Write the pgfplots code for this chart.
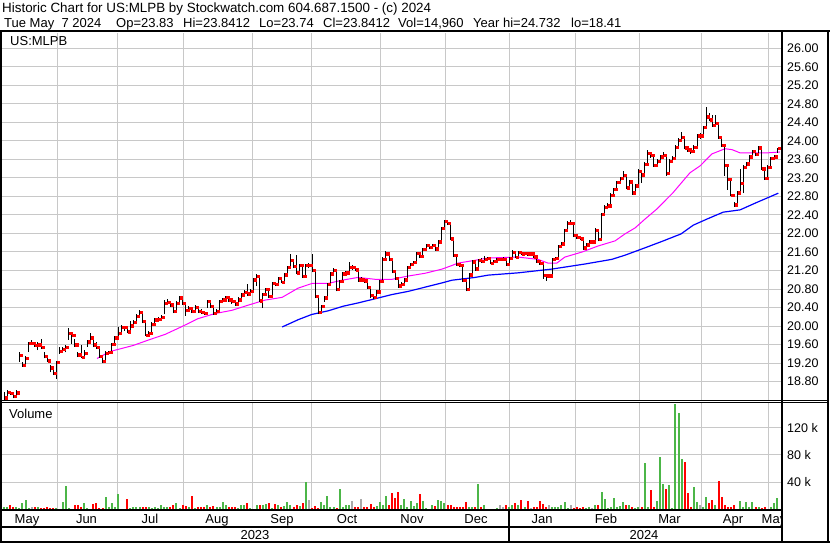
\documentclass[border=0pt]{standalone}
\usepackage{fontspec}
\setmainfont{Liberation Sans}
\usepackage{pgfplots}
\usepackage{pgfplotstable}
\pgfplotsset{compat=1.18}

\definecolor{gridc}{RGB}{200,200,200}
\definecolor{cmag}{RGB}{255,0,255}
\definecolor{cblue}{RGB}{0,0,255}
\definecolor{cred}{RGB}{255,0,0}
\definecolor{cgreen}{RGB}{76,182,72}
\definecolor{cgray}{RGB}{170,170,170}

% day index, high, low, close, volume (k), colour (0 flat, 1 up, 2 down)
\pgfplotstableread{
i h l c v col
0 18.58 18.41 18.45 4 1
1 18.62 18.46 18.57 3 1
2 18.60 18.52 18.55 6 2
3 18.58 18.44 18.48 4 2
4 18.62 18.47 18.56 3 1
5 19.45 19.22 19.37 2 1
6 19.22 19.12 19.15 9 1
7 19.35 19.16 19.30 13 1
8 19.65 19.45 19.63 2 1
9 19.70 19.60 19.63 4 0
10 19.66 19.55 19.58 4 2
11 19.65 19.48 19.60 4 1
12 19.72 19.50 19.55 2 2
13 19.45 19.30 19.35 2 2
14 19.38 19.22 19.25 3 2
15 19.15 19.00 19.10 2 2
16 19.08 18.95 18.98 2 2
17 19.25 18.86 19.22 2 1
18 19.55 19.40 19.46 1 1
19 19.55 19.44 19.50 10 1
20 19.60 19.43 19.54 34 1
21 19.95 19.70 19.85 2 1
22 19.88 19.62 19.80 1 2
23 19.72 19.55 19.60 7 2
24 19.45 19.33 19.38 6 2
25 19.60 19.30 19.32 3 2
26 19.48 19.36 19.41 9 1
27 19.70 19.55 19.66 2 1
28 19.85 19.68 19.75 1 1
29 19.70 19.55 19.60 8 2
30 19.66 19.50 19.54 9 2
31 19.52 19.32 19.35 2 2
32 19.36 19.20 19.24 2 2
33 19.46 19.26 19.42 18 1
34 19.47 19.40 19.43 4 1
35 19.64 19.44 19.61 9 1
36 19.78 19.60 19.75 4 1
37 19.97 19.70 19.85 22 1
38 20.02 19.86 19.98 1 1
39 20.01 19.90 19.97 1 2
40 19.98 19.84 19.88 15 2
41 20.10 19.86 20.01 2 1
42 20.13 20.00 20.09 3 1
43 20.25 20.08 20.22 4 1
44 20.34 20.20 20.30 3 1
45 20.30 20.06 20.10 4 2
46 20.12 19.78 19.81 4 2
47 19.90 19.78 19.85 3 1
48 20.09 19.84 20.04 2 1
49 20.18 20.02 20.14 3 1
50 20.20 20.10 20.15 2 1
51 20.23 20.12 20.19 6 1
52 20.57 20.25 20.49 3 1
53 20.58 20.45 20.52 3 1
54 20.55 20.42 20.46 3 2
55 20.48 20.28 20.32 7 2
56 20.54 20.30 20.50 9 1
57 20.66 20.48 20.61 2 1
58 20.62 20.46 20.50 6 2
59 20.50 20.22 20.34 5 2
60 20.44 20.30 20.39 4 1
61 20.42 20.28 20.32 19 2
62 20.46 20.30 20.40 2 1
63 20.42 20.28 20.32 3 2
64 20.36 20.26 20.30 4 2
65 20.33 20.24 20.28 3 2
66 20.56 20.40 20.53 6 1
67 20.55 20.40 20.43 3 2
68 20.45 20.24 20.28 5 2
69 20.36 20.25 20.32 3 1
70 20.56 20.30 20.53 3 1
71 20.60 20.50 20.57 10 1
72 20.65 20.55 20.62 6 1
73 20.64 20.52 20.57 4 2
74 20.60 20.48 20.53 4 2
75 20.55 20.44 20.48 4 2
76 20.62 20.46 20.57 2 1
77 20.72 20.55 20.68 7 1
78 20.78 20.64 20.73 6 1
79 20.90 20.65 20.70 9 2
80 20.80 20.68 20.75 2 1
81 21.03 20.72 21.00 1 1
82 21.13 20.86 21.08 7 1
83 21.10 20.52 20.55 6 2
84 20.72 20.40 20.69 6 1
85 20.83 20.66 20.80 8 1
86 20.82 20.60 20.64 9 2
87 20.96 20.62 20.93 2 1
88 20.96 20.86 20.91 8 2
89 21.07 20.90 21.04 6 1
90 21.06 20.92 20.95 4 2
91 21.14 20.93 21.11 5 1
92 21.30 21.09 21.27 10 1
93 21.55 21.25 21.42 6 1
94 21.45 21.25 21.29 4 2
95 21.54 21.12 21.15 6 2
96 21.35 21.14 21.31 5 1
97 21.34 21.04 21.08 9 2
98 21.35 21.06 21.31 40 1
99 21.36 21.25 21.31 13 0
100 21.55 21.16 21.20 2 2
101 21.22 20.60 20.64 5 2
102 20.66 20.25 20.30 2 2
103 20.46 20.28 20.43 10 1
104 20.64 20.53 20.61 6 1
105 20.93 20.60 20.90 20 1
106 21.16 20.88 21.13 4 1
107 21.25 21.10 21.21 3 1
108 21.22 20.75 20.79 2 2
109 21.00 20.77 20.97 30 1
110 21.16 20.95 21.13 4 1
111 21.18 21.10 21.15 7 1
112 21.38 21.12 21.27 7 1
113 21.32 21.22 21.27 12 0
114 21.29 21.18 21.22 4 2
115 21.24 20.96 21.00 3 2
116 21.05 20.96 21.00 15 0
117 21.02 20.94 20.98 4 2
118 21.00 20.80 20.84 4 2
119 20.86 20.60 20.66 8 2
120 20.68 20.58 20.62 3 2
121 20.77 20.60 20.74 5 1
122 21.00 20.72 20.97 10 1
123 21.50 20.95 21.45 6 1
124 21.62 21.42 21.56 19 1
125 21.58 21.40 21.44 6 2
126 21.46 21.14 21.18 24 2
127 21.20 21.00 21.04 17 2
128 21.06 20.83 20.87 25 2
129 20.95 20.85 20.91 6 1
130 21.03 20.88 21.00 15 1
131 21.30 20.98 21.27 3 1
132 21.36 21.25 21.33 12 1
133 21.41 21.30 21.38 5 1
134 21.61 21.36 21.58 9 1
135 21.60 21.47 21.51 22 2
136 21.69 21.49 21.66 12 1
137 21.78 21.64 21.74 2 1
138 21.76 21.66 21.70 1 2
139 21.77 21.68 21.74 6 1
140 21.76 21.63 21.67 5 2
141 21.85 21.65 21.82 13 1
142 22.15 21.80 22.12 12 1
143 22.30 22.10 22.26 9 1
144 22.28 22.18 22.22 6 2
145 22.24 21.85 21.89 6 2
146 21.91 21.50 21.53 4 2
147 21.55 21.30 21.33 3 2
148 21.36 21.27 21.31 4 2
149 21.33 20.95 20.99 3 2
150 21.01 20.75 20.79 10 2
151 21.14 20.77 21.11 4 1
152 21.42 21.09 21.39 4 1
153 21.41 21.20 21.24 3 2
154 21.45 21.22 21.42 37 1
155 21.48 21.36 21.40 3 2
156 21.51 21.38 21.44 7 1
157 21.49 21.42 21.46 1 1
158 21.48 21.33 21.36 1 2
159 21.43 21.34 21.40 1 1
160 21.47 21.38 21.44 2 1
161 21.48 21.40 21.44 7 0
162 21.50 21.41 21.44 4 0
163 21.46 21.30 21.34 6 2
164 21.50 21.32 21.47 4 1
165 21.64 21.45 21.60 7 1
166 21.62 21.46 21.49 9 2
167 21.63 21.47 21.60 7 1
168 21.62 21.53 21.56 13 2
169 21.61 21.54 21.58 4 1
170 21.60 21.52 21.56 12 2
171 21.59 21.53 21.56 2 0
172 21.58 21.47 21.50 3 2
173 21.52 21.37 21.40 4 2
174 21.42 21.32 21.36 12 2
175 21.38 21.02 21.10 8 2
176 21.13 20.98 21.09 3 2
177 21.12 21.05 21.09 6 0
178 21.47 21.07 21.44 4 1
179 21.50 21.42 21.47 4 1
180 21.76 21.45 21.73 4 1
181 21.82 21.70 21.78 7 1
182 22.10 21.76 22.07 10 1
183 22.26 22.05 22.22 2 1
184 22.30 22.18 22.22 6 0
185 22.24 21.92 21.96 2 2
186 21.98 21.88 21.92 3 2
187 21.94 21.85 21.89 2 2
188 21.91 21.65 21.69 3 2
189 21.79 21.67 21.76 2 1
190 21.85 21.74 21.82 3 1
191 21.86 21.78 21.82 2 0
192 22.11 21.80 22.07 6 1
193 22.09 21.83 21.87 6 2
194 22.44 21.85 22.41 25 1
195 22.62 22.39 22.57 15 1
196 22.65 22.52 22.60 2 1
197 22.87 22.58 22.83 4 1
198 22.99 22.80 22.95 17 1
199 23.14 22.93 23.10 4 1
200 23.22 23.08 23.19 5 1
201 23.34 23.16 23.26 10 1
202 23.28 22.95 22.99 6 2
203 23.16 22.97 23.12 7 1
204 23.14 22.84 22.88 3 2
205 23.07 22.86 23.03 2 1
206 23.40 23.01 23.35 3 1
207 23.37 23.10 23.27 3 2
208 23.54 23.25 23.50 68 1
209 23.80 23.48 23.73 3 1
210 23.76 23.64 23.69 28 2
211 23.71 23.44 23.48 3 2
212 23.60 23.46 23.56 12 1
213 23.70 23.54 23.66 77 1
214 23.76 23.64 23.69 37 1
215 23.71 23.25 23.30 30 2
216 23.60 23.28 23.56 35 1
217 23.67 23.54 23.63 2 1
218 23.90 23.61 23.86 155 1
219 24.06 23.84 24.02 141 1
220 24.20 24.00 24.08 74 1
221 24.10 23.82 23.85 69 2
222 23.88 23.76 23.81 24 2
223 23.83 23.72 23.77 3 2
224 23.90 23.75 23.86 33 1
225 24.14 23.84 24.11 10 1
226 24.18 24.04 24.11 7 0
227 24.33 24.09 24.29 4 1
228 24.73 24.27 24.52 18 1
229 24.60 24.42 24.46 9 2
230 24.56 24.30 24.34 13 2
231 24.56 24.32 24.38 7 1
232 24.40 24.04 24.08 41 2
233 24.10 23.87 23.91 18 2
234 23.93 23.25 23.48 6 2
235 23.50 22.94 23.17 3 2
236 23.19 22.80 22.83 3 2
237 22.68 22.58 22.62 6 2
238 22.92 22.60 22.88 1 1
239 23.40 22.86 23.09 12 1
240 23.47 22.88 23.43 3 1
241 23.55 23.40 23.51 10 1
242 23.70 23.49 23.66 4 1
243 23.80 23.62 23.77 10 1
244 23.79 23.67 23.71 3 2
245 23.89 23.69 23.85 4 1
246 23.87 23.38 23.40 2 2
247 23.42 23.16 23.19 3 2
248 23.47 23.17 23.43 1 1
249 23.66 23.41 23.63 4 1
250 23.70 23.60 23.66 9 1
251 23.84 23.74 23.84 16 1
}\ohlc

% short moving average (magenta)
\pgfplotstableread{
i ma
30.2 19.30
34.4 19.45
41.9 19.58
47.4 19.71
52.3 19.82
57.8 19.99
63.0 20.16
68.5 20.27
74.0 20.34
79.2 20.45
84.7 20.56
90.3 20.62
95.5 20.82
100.0 20.92
105.2 20.92
109.7 20.99
114.9 21.05
120.5 21.01
126.0 21.01
131.2 21.08
136.7 21.14
142.2 21.23
145.5 21.31
147.4 21.36
152.9 21.42
157.1 21.47
166.9 21.49
173.4 21.44
176.6 21.36
179.5 21.36
182.1 21.49
187.7 21.60
192.9 21.73
198.4 21.84
201.6 21.99
204.9 22.12
208.1 22.31
212.0 22.53
217.2 22.88
222.7 23.31
226.0 23.46
229.9 23.72
234.1 23.83
236.4 23.81
239.0 23.74
244.5 23.74
247.7 23.74
251.9 23.76
}\maA

% long moving average (blue)
\pgfplotstableread{
i ma
90.3 19.98
95.6 20.14
99.9 20.25
105.3 20.33
110.2 20.43
115.0 20.50
120.5 20.59
125.9 20.68
131.3 20.75
136.7 20.84
142.1 20.93
145.4 20.99
152.9 21.05
157.2 21.10
167.0 21.15
177.8 21.23
188.6 21.34
197.3 21.44
201.6 21.53
208.1 21.69
213.3 21.82
219.8 21.99
223.8 22.18
228.2 22.31
233.5 22.46
239.0 22.51
244.4 22.67
251.4 22.87
}\maB

\begin{document}
\begin{tikzpicture}[x=1pt,y=1pt]
\path[use as bounding box] (0,0) rectangle (830,543);
\fill[white] (0,0) rectangle (830,543);

\pgfplotsset{
  swpanel/.style={
    scale only axis, anchor=south west,
    width=779pt, xmin=-0.65, xmax=252.27,
    axis line style={draw=none}, tick style={draw=none},
    xtick={17.21,37.01,58.12,80.52,99.68,122.08,143.18,163.96,185.71,206.17,226.30,248.05},
    xticklabels={},
    grid=major, grid style={gridc, line width=1pt},
    yticklabel pos=right,
    yticklabel style={anchor=west, inner sep=0pt, xshift=6pt,
      font=\fontsize{12.5}{14}\selectfont},
    /pgf/number format/assume math mode=true,
  }
}

% price panel
\begin{axis}[swpanel, at={(2pt,142.4pt)}, height=367.6pt,
  ymin=18.39, ymax=26.33,
  ytick={18.8,19.2,19.6,20.0,20.4,20.8,21.2,21.6,22.0,22.4,22.8,23.2,23.6,24.0,24.4,24.8,25.2,25.6,26.0},
  yticklabels={18.80,19.20,19.60,20.00,20.40,20.80,21.20,21.60,22.00,22.40,22.80,23.20,23.60,24.00,24.40,24.80,25.20,25.60,26.00}]
\addplot[cmag, line width=1pt] table[x=i, y=ma] {\maA};
\addplot[cblue, line width=1.2pt] table[x=i, y=ma] {\maB};
% high-low bars
\addplot[draw=none, mark=none,
  error bars/.cd, y dir=plus, y explicit, error mark=none,
  error bar style={draw=black, line width=0.9pt}]
  table[x=i, y=l, y error expr=\thisrow{h}-\thisrow{l}] {\ohlc};
% closes
\addplot[color=cred, only marks, mark=square*, mark size=1.15pt,
  mark options={solid, draw=none, fill=cred, xshift=1.9pt}]
  table[x=i, y=c] {\ohlc};
\end{axis}

% volume panel
\begin{axis}[swpanel, at={(2pt,33.7pt)}, height=105.8pt,
  ymin=0, ymax=155.6,
  ytick={40,80,120}, yticklabels={40 k,80 k,120 k}]
\addplot[ycomb, cgreen, line width=2pt, restrict expr to domain={\thisrow{col}}{0.5:1.5}]
  table[x=i, y=v] {\ohlc};
\addplot[ycomb, cred, line width=2pt, restrict expr to domain={\thisrow{col}}{1.5:2.5}]
  table[x=i, y=v] {\ohlc};
\addplot[ycomb, cgray, line width=2pt, restrict expr to domain={\thisrow{col}}{-0.5:0.5}]
  table[x=i, y=v] {\ohlc};
\end{axis}

% frame
\draw[line width=2pt] (0,512) -- (830,512);
\draw[line width=2pt] (1,512) -- (1,0);
\draw[line width=2pt] (828,512) -- (828,0);
\draw[line width=2pt] (0,1) -- (830,1);
\draw[line width=2pt] (781.8,512) -- (781.8,0);
\draw[line width=1pt] (0,142.4) -- (829,142.4);
\draw[line width=1pt] (0,140.4) -- (829,140.4);
\draw[line width=1.6pt] (0,33) -- (781.8,33);
\draw[line width=2pt] (0,16.3) -- (781.8,16.3);
\draw[line width=1.3pt] (509,33) -- (509,0);

% header
\node[anchor=base west, inner sep=0pt, font=\fontsize{13.4}{15}\selectfont] at (2,530.3)
  {Historic Chart for US:MLPB by Stockwatch.com 604.687.1500 - (c) 2024};
\begin{scope}[every node/.style={anchor=base west, inner sep=0pt, font=\fontsize{13}{15}\selectfont}]
\node at (4,515.7) {Tue May\ \ 7 2024};
\node at (116,515.7) {Op=23.83};
\node at (183,515.7) {Hi=23.8412};
\node at (259,515.7) {Lo=23.74};
\node at (323,515.7) {Cl=23.8412};
\node at (398,515.7) {Vol=14,960};
\node at (473,515.7) {Year hi=24.732};
\node at (571,515.7) {lo=18.41};
\node at (10,497) {US:MLPB};
\node at (9,124.7) {Volume};
\end{scope}

% month and year labels
\begin{scope}
\clip (2,17.5) rectangle (780.8,32);
\begin{scope}[every node/.style={anchor=base, inner sep=0pt, font=\fontsize{13}{15}\selectfont}]
\node at (27,19.7) {May};
\node at (86.5,19.7) {Jun};
\node at (150,19.7) {Jul};
\node at (217,19.7) {Aug};
\node at (282,19.7) {Sep};
\node at (347,19.7) {Oct};
\node at (412,19.7) {Nov};
\node at (476,19.7) {Dec};
\node at (542,19.7) {Jan};
\node at (606,19.7) {Feb};
\node at (669.5,19.7) {Mar};
\node at (733,19.7) {Apr};
\node at (774,19.7) {May};
\end{scope}
\end{scope}
\node[anchor=base, inner sep=0pt, font=\fontsize{13}{15}\selectfont] at (255,3.7) {2023};
\node[anchor=base, inner sep=0pt, font=\fontsize{13}{15}\selectfont] at (644,3.7) {2024};
\end{tikzpicture}
\end{document}
